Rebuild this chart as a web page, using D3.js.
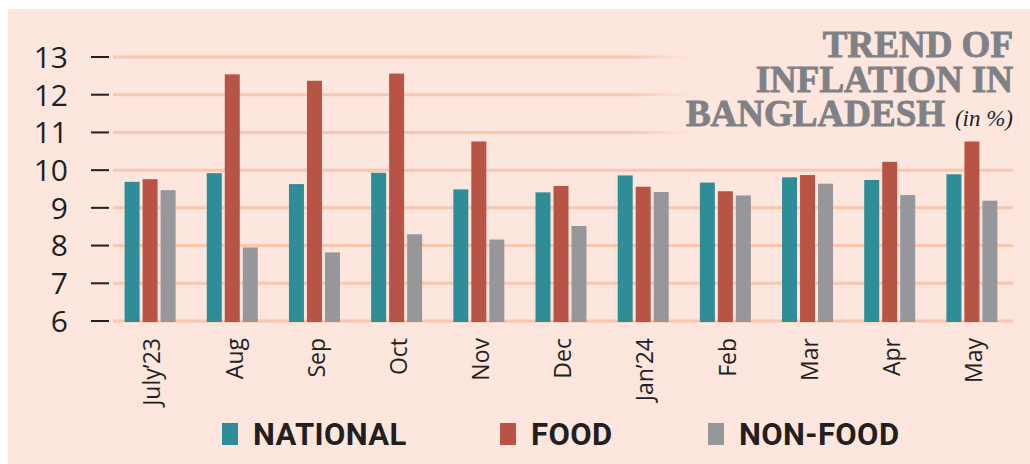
<!DOCTYPE html>
<html>
<head>
<meta charset="utf-8">
<script src="https://cdn.jsdelivr.net/npm/d3@7"></script>
<style>
  html, body { margin: 0; padding: 0; background: #fff; }
  svg { display: block; }
</style>
</head>
<body>
<svg width="1030" height="464"></svg>
<script>
var months = ["July’23", "Aug", "Sep", "Oct", "Nov", "Dec", "Jan’24", "Feb", "Mar", "Apr", "May"];
var national = [9.69, 9.92, 9.63, 9.93, 9.49, 9.41, 9.86, 9.67, 9.81, 9.74, 9.89];
var food = [9.76, 12.54, 12.37, 12.56, 10.76, 9.58, 9.56, 9.44, 9.87, 10.22, 10.76];
var nonFood = [9.47, 7.95, 7.82, 8.30, 8.16, 8.52, 9.42, 9.33, 9.64, 9.34, 9.19];
var yTicks = [6, 7, 8, 9, 10, 11, 12, 13];
var seriesNames = ["NATIONAL", "FOOD", "NON-FOOD"];

var colors = { "NATIONAL": "#2e8d96", "FOOD": "#b85446", "NON-FOOD": "#96979b" };

var svg = d3.select("svg");

// pink panel
svg.append("rect")
    .attr("x", 8).attr("y", 9)
    .attr("width", 1022).attr("height", 455)
    .attr("fill", "#fde6dd");

var x = d3.scaleBand().domain(months).range([109, 1013]);
var x1 = d3.scaleBand().domain(seriesNames).range([0, 51]).paddingInner(3 / 18);
var y = d3.scaleLinear().domain([6, 13]).range([321, 57]);

// fading gridlines under the title
var grad = svg.append("defs").append("linearGradient")
    .attr("id", "fade")
    .attr("gradientUnits", "userSpaceOnUse")
    .attr("x1", 113).attr("x2", 1013).attr("y1", 0).attr("y2", 0);
grad.append("stop").attr("offset", (630 - 113) / 900).attr("stop-color", "#f9c6b0").attr("stop-opacity", 1);
grad.append("stop").attr("offset", (690 - 113) / 900).attr("stop-color", "#f9c6b0").attr("stop-opacity", 0);

svg.append("g")
  .selectAll("line")
  .data(yTicks).enter()
  .append("line")
    .attr("x1", 113)
    .attr("x2", 1013)
    .attr("y1", function(d) { return y(d); })
    .attr("y2", function(d) { return y(d); })
    .attr("stroke", function(d) { return d > 10 ? "url(#fade)" : "#f9c6b0"; })
    .attr("stroke-width", 3);

// y axis dashes + labels
var yAxis = svg.append("g");
yAxis.selectAll("line")
  .data(yTicks).enter()
  .append("line")
    .attr("x1", 91).attr("x2", 109)
    .attr("y1", function(d) { return y(d); })
    .attr("y2", function(d) { return y(d); })
    .attr("stroke", "#231f20")
    .attr("stroke-width", 2);
yAxis.selectAll("text")
  .data(yTicks).enter()
  .append("text")
    .attr("x", 68)
    .attr("y", function(d) { return y(d); })
    .attr("dy", "0.36em")
    .attr("text-anchor", "end")
    .attr("font-family", "Open Sans")
    .attr("font-size", 30)
    .attr("fill", "#231f20")
    .text(function(d) { return d; });

// bars
var rows = months.map(function(m, i) {
  return { month: m, values: [
    { key: "NATIONAL", value: national[i] },
    { key: "FOOD", value: food[i] },
    { key: "NON-FOOD", value: nonFood[i] }
  ] };
});

var groups = svg.append("g")
  .selectAll("g")
  .data(rows).enter()
  .append("g")
    .attr("transform", function(d) { return "translate(" + (x(d.month) + (x.bandwidth() - 51) / 2) + ",0)"; });

groups.selectAll("rect")
  .data(function(d) { return d.values; }).enter()
  .append("rect")
    .attr("x", function(d) { return x1(d.key); })
    .attr("y", function(d) { return y(d.value); })
    .attr("width", x1.bandwidth())
    .attr("height", function(d) { return y(6) - y(d.value) + 1; })
    .attr("fill", function(d) { return colors[d.key]; });

// x labels
svg.append("g")
  .selectAll("text")
  .data(months).enter()
  .append("text")
    .attr("transform", function(d) { return "translate(" + (x(d) + x.bandwidth() / 2 + 2) + ",338) rotate(-90)"; })
    .attr("dy", "0.36em")
    .attr("text-anchor", "end")
    .attr("font-family", "Open Sans")
    .attr("font-size", 23)
    .attr("fill", "#231f20")
    .text(function(d) { return d; });

// legend
var legendX = [222, 500, 708];
var legend = svg.append("g")
  .selectAll("g")
  .data(seriesNames).enter()
  .append("g")
    .attr("transform", function(d, i) { return "translate(" + legendX[i] + ",423)"; });
legend.append("rect")
    .attr("width", 16).attr("height", 22)
    .attr("fill", function(d) { return colors[d]; });
legend.append("text")
    .attr("x", 31)
    .attr("y", 22)
    .attr("font-family", "Roboto")
    .attr("font-weight", "bold")
    .attr("font-size", 31)
    .attr("letter-spacing", 0.4)
    .attr("fill", "#231f20")
    .text(function(d) { return d; });

// title (tight leading, like the reference)
var title = svg.append("g")
    .attr("font-family", "Liberation Serif")
    .attr("font-weight", "bold")
    .attr("font-size", 37)
    .attr("fill", "#808185")
    .attr("stroke", "#808185")
    .attr("stroke-width", 0.9)
    .attr("text-anchor", "end");
title.append("text").attr("x", 1013).attr("y", 57).text("TREND OF");
title.append("text").attr("x", 1013).attr("y", 92).text("INFLATION IN");
title.append("text").attr("x", 945).attr("y", 126).text("BANGLADESH");
title.append("text")
    .attr("x", 1013).attr("y", 126)
    .attr("font-weight", "normal")
    .attr("font-style", "italic")
    .attr("font-size", 23)
    .attr("stroke", "none")
    .attr("fill", "#231f20")
    .text("(in %)");
</script>
</body>
</html>
